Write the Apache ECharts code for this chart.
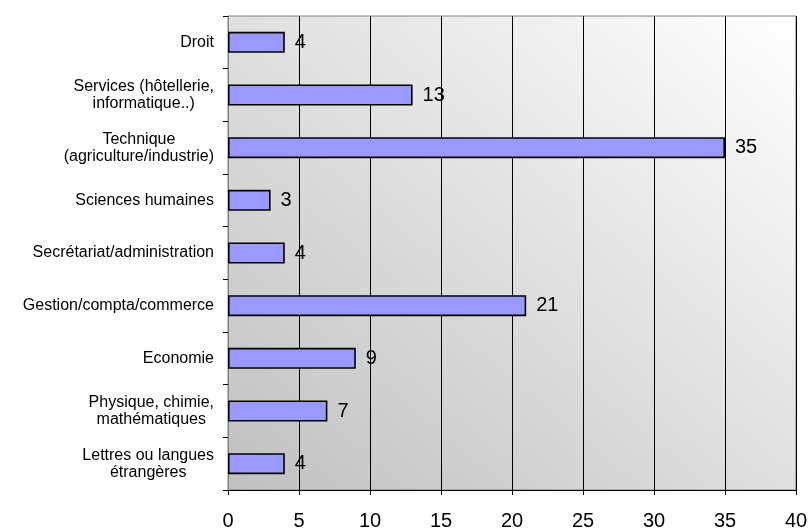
<!DOCTYPE html>
<html>
<head>
<meta charset="utf-8">
<script src="https://cdn.jsdelivr.net/npm/echarts@6/dist/echarts.min.js"></script>
<style>html,body{margin:0;padding:0;background:#fff;}#c{width:808px;height:530px;}</style>
</head>
<body>
<div id="c"></div>
<script>
var categories = [
  "Droit",
  "Services (hôtellerie,\ninformatique..)",
  "Technique\n(agriculture/industrie)",
  "Sciences humaines",
  "Secrétariat/administration",
  "Gestion/compta/commerce",
  "Economie",
  "Physique, chimie,\nmathématiques",
  "Lettres ou langues\nétrangères"
];
var values = [4, 13, 35, 3, 4, 21, 9, 7, 4];
var xTicks = [0, 5, 10, 15, 20, 25, 30, 35, 40];

var W = 808, H = 530;
var G = {left: 228, right: 12, top: 16, bottom: 40};
var pw = W - G.left - G.right, ph = H - G.top - G.bottom;
var cx = G.left + pw / 2, cy = G.top + ph / 2;
var f = pw * ph / (pw * pw + ph * ph);

var chart = echarts.init(document.getElementById('c'), null, {renderer: 'canvas'});
var font = 'Liberation Sans, Arial, sans-serif';
chart.setOption({
  animation: false,
  grid: {
    left: G.left, right: G.right, top: G.top, bottom: G.bottom,
    containLabel: false,
    outerBoundsMode: 'none',
    show: true,
    borderColor: '#808080',
    borderWidth: 1,
    backgroundColor: {
      type: 'linear', global: true,
      x: cx - f * ph, y: cy + f * pw, x2: cx + f * ph, y2: cy - f * pw,
      colorStops: [
        {offset: 0, color: '#c0c0c0'},
        {offset: 1, color: '#ffffff'}
      ]
    }
  },
  xAxis: {
    type: 'value',
    min: 0, max: 40, interval: 5,
    axisLine: {show: true, lineStyle: {color: '#000', width: 1}},
    axisTick: {show: true, length: 5, lineStyle: {color: '#000'}},
    axisLabel: {
      color: '#000', fontSize: 20, fontFamily: font, margin: 21,
      formatter: function (v) { return xTicks.indexOf(v) >= 0 ? String(v) : ''; }
    },
    splitLine: {show: true, lineStyle: {color: '#000', width: 1}}
  },
  yAxis: {
    type: 'category',
    inverse: true,
    data: categories,
    axisLine: {show: true, lineStyle: {color: '#808080', width: 1}},
    axisTick: {show: true, length: 5, lineStyle: {color: '#000'}},
    axisLabel: {
      color: '#000', fontSize: 16, fontFamily: font, margin: 14, lineHeight: 17,
      formatter: function (v) {
        return v.split('\n').map(function (l) { return '{c|' + l + '}'; }).join('\n');
      },
      rich: {c: {align: 'center', fontSize: 16, fontFamily: font, color: '#000', lineHeight: 17}}
    },
    splitLine: {show: false}
  },
  series: [{
    type: 'bar',
    data: values,
    barWidth: 21,
    itemStyle: {color: '#9999ff', borderColor: '#000', borderWidth: 1.6},
    label: {
      show: true, position: 'right', distance: 10,
      color: '#000', fontSize: 20, fontFamily: font
    }
  }]
});
</script>
</body>
</html>
